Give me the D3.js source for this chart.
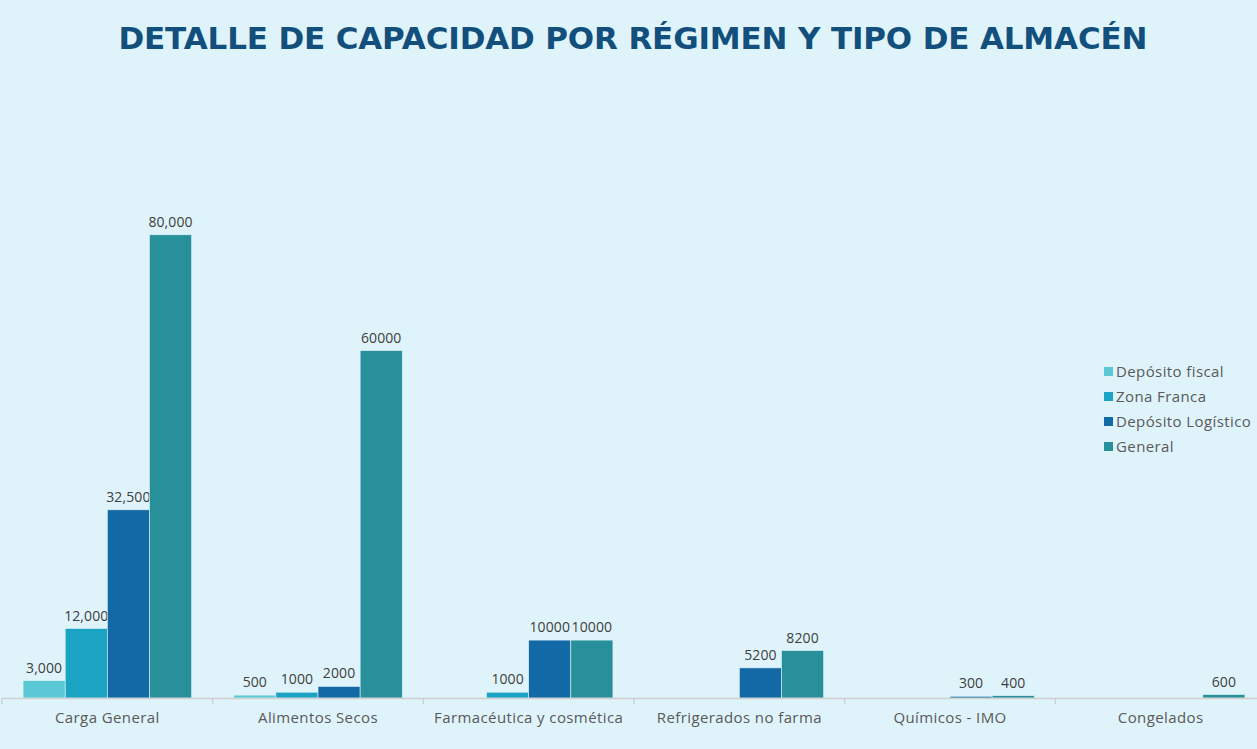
<!DOCTYPE html>
<html>
<head>
<meta charset="utf-8">
<script src="https://cdn.jsdelivr.net/npm/d3@7"></script>
<style>
  body { margin: 0; background: #dff3fa; }
  svg { display: block; font-family: "Open Sans", sans-serif; }
  .lbl { font-size: 15px; letter-spacing: 0.4px; }
  .val { font-size: 14px; letter-spacing: 0.1px; }
</style>
</head>
<body>
<svg id="chart" width="1257" height="749"></svg>
<script>
// chart data
var categories = ["Carga General", "Alimentos Secos", "Farmacéutica y cosmética",
  "Refrigerados no farma", "Químicos - IMO", "Congelados"];
var seriesNames = ["Depósito fiscal", "Zona Franca", "Depósito Logístico", "General"];
var depositoFiscal = [3000, 500, null, null, null, null];
var zonaFranca = [12000, 1000, 1000, null, null, null];
var depositoLogistico = [32500, 2000, 10000, 5200, 300, null];
var general = [80000, 60000, 10000, 8200, 400, 600];
// Carga General labels are shown with thousands separators
var commaLabels = [true, false, false, false, false, false];
var colors = ["#5bc8d6", "#1ba3c4", "#1269a6", "#28909a"];

var svg = d3.select("#chart");
var width = 1257, height = 749;
var margin = { left: 2, right: -9, top: 119, bottom: 51 };

var allSeries = [depositoFiscal, zonaFranca, depositoLogistico, general];

var x0 = d3.scaleBand()
  .domain(categories)
  .range([margin.left, width - margin.right])
  .paddingInner(0)
  .paddingOuter(0);

var x1 = d3.scaleBand()
  .domain(d3.range(seriesNames.length))
  .range([0, x0.bandwidth()])
  .paddingOuter(0.5)
  .paddingInner(0);

var y = d3.scaleLinear()
  .domain([0, 100000])
  .range([height - margin.bottom, margin.top]);

// title
svg.append("text")
  .attr("x", 633)
  .attr("y", 49)
  .attr("text-anchor", "middle")
  .attr("fill", "#124f7c")
  .attr("textLength", 1029)
  .attr("lengthAdjust", "spacing")
  .style("font-family", "'DejaVu Sans', sans-serif")
  .style("font-weight", "bold")
  .style("font-size", "31px")
  .text("DETALLE DE CAPACIDAD POR RÉGIMEN Y TIPO DE ALMACÉN");

// bars
var groups = svg.append("g").selectAll("g")
  .data(categories)
  .enter()
  .append("g")
  .attr("transform", function (d) { return "translate(" + x0(d) + ",0)"; });

var cells = groups.selectAll("g")
  .data(function (d, i) {
    return allSeries.map(function (s, k) {
      return { k: k, value: s[i], comma: commaLabels[i] };
    }).filter(function (e) { return e.value != null; });
  })
  .enter()
  .append("g");

cells.append("rect")
  .attr("x", function (d) { return x1(d.k); })
  .attr("y", function (d) { return y(d.value); })
  .attr("width", x1.bandwidth())
  .attr("height", function (d) { return y(0) - y(d.value); })
  .attr("fill", function (d) { return colors[d.k]; })
  .attr("stroke", "#dff3fa")
  .attr("stroke-width", 0.6);

cells.append("text")
  .attr("class", "val")
  .attr("x", function (d) { return x1(d.k) + x1.bandwidth() / 2; })
  .attr("y", function (d) { return y(d.value) - 8; })
  .attr("text-anchor", "middle")
  .attr("fill", "#404040")
  .text(function (d) { return d.comma ? d3.format(",")(d.value) : d3.format("d")(d.value); });

// x axis
var xAxis = svg.append("g")
  .attr("transform", "translate(0," + y(0) + ")")
  .call(d3.axisBottom(x0).tickSize(0).tickPadding(14));
xAxis.select(".domain").attr("stroke", "#d0d0d0").attr("stroke-width", 1.5);
xAxis.selectAll("text")
  .attr("class", "lbl")
  .attr("fill", "#595959")
  .style("font-family", "'Open Sans', sans-serif");

// separator ticks between categories
svg.append("g").selectAll("line")
  .data(categories.concat(["end"]))
  .enter()
  .append("line")
  .attr("x1", function (d, i) { return margin.left + i * x0.bandwidth(); })
  .attr("x2", function (d, i) { return margin.left + i * x0.bandwidth(); })
  .attr("y1", y(0))
  .attr("y2", y(0) + 6)
  .attr("stroke", "#d0d0d0")
  .attr("stroke-width", 1.5);

// legend
var legend = svg.append("g")
  .attr("transform", "translate(1104,372)");
var items = legend.selectAll("g")
  .data(seriesNames)
  .enter()
  .append("g")
  .attr("transform", function (d, i) { return "translate(0," + i * 25 + ")"; });
items.append("rect")
  .attr("x", 0)
  .attr("y", -5)
  .attr("width", 9)
  .attr("height", 9)
  .attr("fill", function (d, i) { return colors[i]; });
items.append("text")
  .attr("class", "lbl")
  .attr("x", 12)
  .attr("y", 0)
  .attr("dy", "0.35em")
  .attr("fill", "#595959")
  .text(function (d) { return d; });
</script>
</body>
</html>
